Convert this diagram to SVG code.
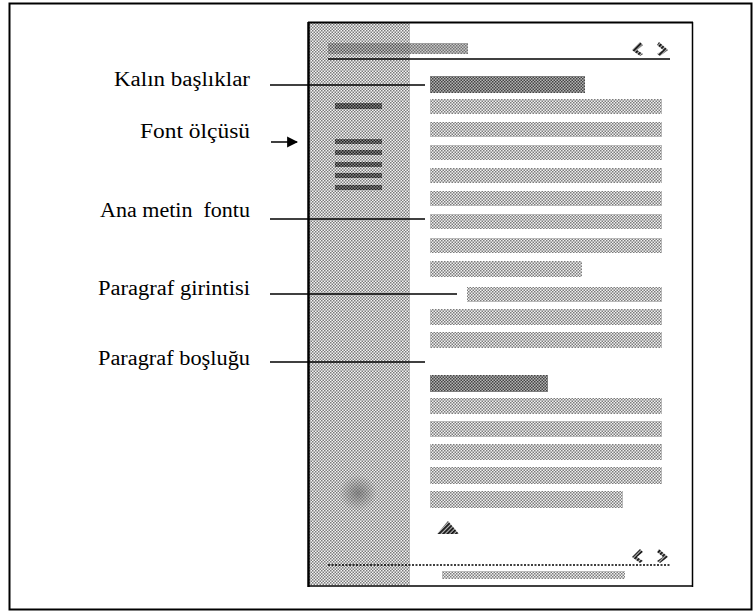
<svg xmlns="http://www.w3.org/2000/svg" width="753" height="615" viewBox="0 0 753 615">
<defs>
<pattern id="pBody" width="3" height="3" patternUnits="userSpaceOnUse">
<rect width="3" height="3" fill="#f0f0f0"/>
<rect x="0" y="0" width="1.5" height="1.5" fill="#7c7c7c"/>
<rect x="1.5" y="1.5" width="1.5" height="1.5" fill="#7c7c7c"/>
</pattern>
<pattern id="pSide" width="3" height="3" patternUnits="userSpaceOnUse">
<rect width="3" height="3" fill="#f4f4f4"/>
<rect x="0" y="0" width="1.5" height="1.5" fill="#7a7a7a"/>
<rect x="1.5" y="1.5" width="1.5" height="1.5" fill="#7a7a7a"/>
</pattern>
<pattern id="pHead" width="3" height="3" patternUnits="userSpaceOnUse">
<rect width="3" height="3" fill="#b4b4b4"/>
<rect x="0" y="0" width="1.5" height="1.5" fill="#444"/>
<rect x="1.5" y="1.5" width="1.5" height="1.5" fill="#444"/>
</pattern>
<pattern id="pBar" width="3" height="3" patternUnits="userSpaceOnUse">
<rect width="3" height="3" fill="#8a8a8a"/>
<rect x="0" y="0" width="1.5" height="1.5" fill="#1e1e1e"/>
<rect x="1.5" y="1.5" width="1.5" height="1.5" fill="#1e1e1e"/>
</pattern>
<pattern id="pHatch" width="3" height="3" patternUnits="userSpaceOnUse" patternTransform="rotate(45)">
<rect width="3" height="3" fill="#bbbbbb"/>
<rect width="1.8" height="3" fill="#111"/>
</pattern>
<radialGradient id="gSpot">
<stop offset="0" stop-color="#666" stop-opacity="0.7"/>
<stop offset="1" stop-color="#666" stop-opacity="0"/>
</radialGradient>
<marker id="arr" viewBox="0 0 10 10" refX="9" refY="5" markerWidth="11" markerHeight="12" markerUnits="userSpaceOnUse" orient="auto">
<path d="M0,0 L10,5 L0,10 z" fill="#000"/>
</marker>
</defs>
<style>
.lbl{font-family:"Liberation Serif","Times New Roman",serif;font-size:20px;fill:#000;text-anchor:end;white-space:pre}
.body{fill:url(#pBody)}
.head{fill:url(#pHead)}
.bar{fill:url(#pBar)}
.conn{stroke:#000;stroke-width:1.5;fill:none}
.frame{stroke:#000;fill:none}
</style>
<rect x="0" y="0" width="753" height="615" fill="#fff"/>
<g id="outer-frame">
<rect class="frame" x="9.5" y="3.5" width="742" height="606" stroke-width="2"/>
</g>
<g id="page">
<rect x="309" y="23" width="101" height="562" fill="url(#pSide)"/>
<ellipse cx="358" cy="493" rx="19" ry="18" fill="url(#gSpot)"/>
<line class="frame" x1="308" y1="22.5" x2="693" y2="22.5" stroke-width="2"/>
<line class="frame" x1="308.5" y1="22" x2="308.5" y2="587" stroke-width="2.5"/>
<line class="frame" x1="692.5" y1="22" x2="692.5" y2="587" stroke-width="1.5"/>
<line class="frame" x1="308" y1="586" x2="693" y2="586" stroke-width="1.5"/>
<rect x="328" y="43" width="140" height="11" fill="url(#pHead)" opacity="0.75"/>
<line class="frame" x1="328" y1="59" x2="670" y2="59" stroke-width="1.5"/>
<line class="frame" x1="328" y1="565" x2="670" y2="565" stroke-width="1.5" stroke-dasharray="2,1.5"/>
<rect x="442" y="571" width="183" height="8" fill="url(#pBody)"/>
<g id="nav-top">
<path d="M640,42 L632,50 L640,56 L643,54 L637,50 L643,45 z" fill="url(#pHatch)"/>
<path d="M659,42 L668,50 L660,56 L657,54 L663,50 L657,45 z" fill="url(#pHatch)"/>
</g>
<g id="nav-bottom">
<path d="M640,549 L632,557 L640,563 L643,561 L637,557 L643,552 z" fill="url(#pHatch)"/>
<path d="M659,549 L668,557 L660,563 L657,561 L663,557 L657,552 z" fill="url(#pHatch)"/>
</g>
<path id="triangle" d="M437,534 L448,521 L459,534 z" fill="url(#pHatch)"/>
</g>
<g id="sidebar-bars">
<rect class="bar" x="335" y="103" width="47" height="6"/>
<rect class="bar" x="335" y="139" width="47" height="5"/>
<rect class="bar" x="335" y="150" width="47" height="5"/>
<rect class="bar" x="335" y="162" width="47" height="5"/>
<rect class="bar" x="335" y="173" width="47" height="5"/>
<rect class="bar" x="335" y="185" width="47" height="5"/>
</g>
<g id="text-lines">
<rect class="head" x="430" y="76" width="155" height="17"/>
<rect class="body" x="430" y="99" width="232" height="15"/>
<rect class="body" x="430" y="122" width="232" height="15"/>
<rect class="body" x="430" y="145" width="232" height="15"/>
<rect class="body" x="430" y="168" width="232" height="15"/>
<rect class="body" x="430" y="191" width="232" height="15"/>
<rect class="body" x="430" y="214" width="232" height="15"/>
<rect class="body" x="430" y="238" width="232" height="15"/>
<rect class="body" x="430" y="261" width="152" height="16"/>
<rect class="body" x="467" y="287" width="195" height="15"/>
<rect class="body" x="430" y="309" width="232" height="16"/>
<rect class="body" x="430" y="332" width="232" height="16"/>
<rect class="head" x="430" y="375" width="118" height="17"/>
<rect class="body" x="430" y="398" width="232" height="16"/>
<rect class="body" x="430" y="421" width="232" height="16"/>
<rect class="body" x="430" y="444" width="232" height="16"/>
<rect class="body" x="430" y="467" width="232" height="17"/>
<rect class="body" x="430" y="491" width="193" height="17"/>
</g>
<g id="label-kalin"><text class="lbl" x="250" y="86" textLength="136" lengthAdjust="spacingAndGlyphs">Kalın başlıklar</text></g>
<g id="label-font"><text class="lbl" x="250" y="138" textLength="110" lengthAdjust="spacingAndGlyphs">Font ölçüsü</text></g>
<g id="label-ana"><text class="lbl" x="250" y="217" textLength="150" lengthAdjust="spacingAndGlyphs">Ana metin  fontu</text></g>
<g id="label-girinti"><text class="lbl" x="250" y="295" textLength="152" lengthAdjust="spacingAndGlyphs">Paragraf girintisi</text></g>
<g id="label-bosluk"><text class="lbl" x="250" y="365" textLength="152" lengthAdjust="spacingAndGlyphs">Paragraf boşluğu</text></g>
<g id="connectors">
<line class="conn" x1="270" y1="85" x2="425" y2="85"/>
<line class="conn" x1="271" y1="142" x2="297" y2="142" stroke-width="2.5" marker-end="url(#arr)"/>
<line class="conn" x1="270" y1="219" x2="425" y2="219"/>
<line class="conn" x1="270" y1="294" x2="457" y2="294"/>
<line class="conn" x1="270" y1="362" x2="425" y2="362"/>
</g>
</svg>
